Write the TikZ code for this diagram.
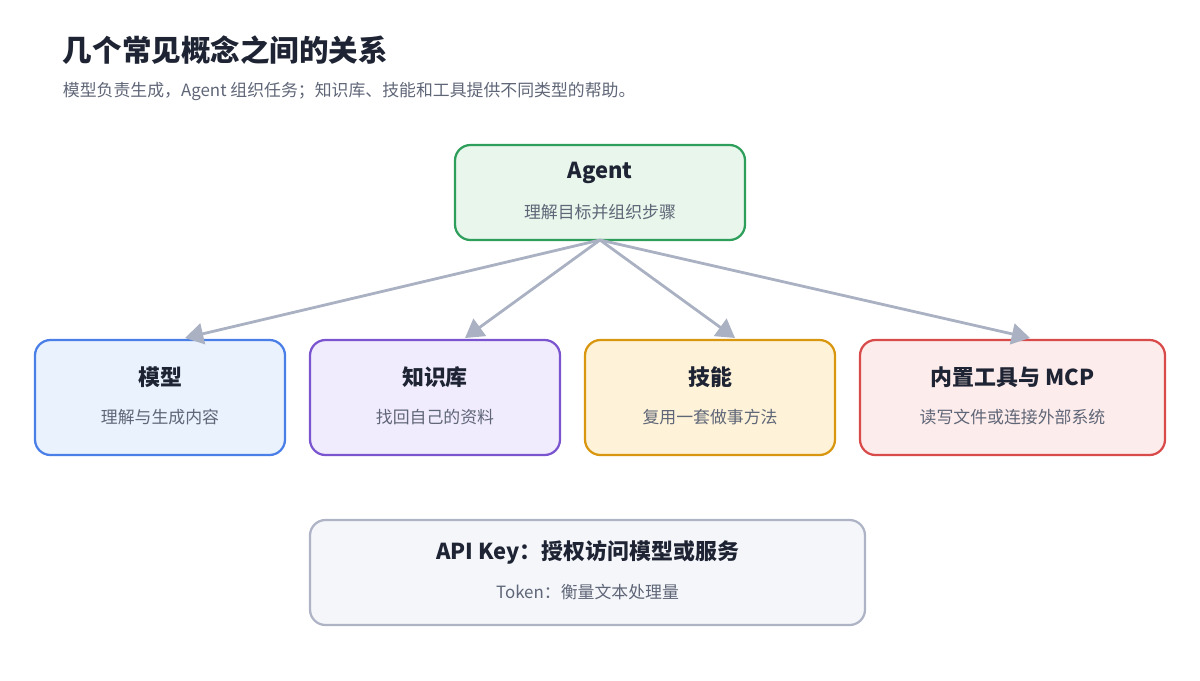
\documentclass[tikz,border=0pt]{standalone}
\usepackage{fontspec}
\setmainfont{Noto Sans CJK SC}
\usetikzlibrary{arrows.meta,calc}
\definecolor{ink}{HTML}{1E2433}
\definecolor{sub}{HTML}{5F6677}
\definecolor{edge}{HTML}{A9B1C2}
\definecolor{gF}{HTML}{E8F6EC}\definecolor{gD}{HTML}{2E9E5B}
\definecolor{bF}{HTML}{EAF2FE}\definecolor{bD}{HTML}{4A7FE8}
\definecolor{pF}{HTML}{F1ECFD}\definecolor{pD}{HTML}{7B55CF}
\definecolor{oF}{HTML}{FEF3D9}\definecolor{oD}{HTML}{D9960F}
\definecolor{rF}{HTML}{FDECEC}\definecolor{rD}{HTML}{D94B4B}
\definecolor{kF}{HTML}{F4F6FA}\definecolor{kD}{HTML}{AEB4C6}
\tikzset{>={Triangle[length=13pt,width=15pt]}}
\newcommand{\boxtxt}[3]{%
  \node[font=\fontsize{15.6}{18}\selectfont\bfseries,text=ink] at ($(#1)+(0,-20)$) {#2};
  \node[font=\fontsize{12}{14}\selectfont,text=sub] at ($(#1)+(0,20)$) {#3};}
\begin{document}
\begin{tikzpicture}[x=0.025cm,y=-0.025cm,
  card/.style={draw,line width=1.6pt,rounded corners=11pt,inner sep=0pt},
  link/.style={->,draw=edge,line width=2pt}]
\useasboundingbox (0,0) rectangle (1200,680);
\node[anchor=west,font=\fontsize{21}{24}\selectfont\bfseries,text=ink] (title) at (58,50) {几个常见概念之间的关系};
\node[anchor=west,font=\fontsize{12}{14}\selectfont,text=sub] (subtitle) at (58,91) {模型负责生成，Agent 组织任务；知识库、技能和工具提供不同类型的帮助。};
\node[card,fill=gF,draw=gD,minimum width=290*0.025cm,minimum height=95*0.025cm] (agent) at (600,192.5) {};
\node[card,fill=bF,draw=bD,minimum width=250*0.025cm,minimum height=115*0.025cm] (model) at (160,397.5) {};
\node[card,fill=pF,draw=pD,minimum width=250*0.025cm,minimum height=115*0.025cm] (kb) at (435,397.5) {};
\node[card,fill=oF,draw=oD,minimum width=250*0.025cm,minimum height=115*0.025cm] (skill) at (710,397.5) {};
\node[card,fill=rF,draw=rD,minimum width=305*0.025cm,minimum height=115*0.025cm] (tools) at (1012.5,397.5) {};
\node[card,fill=kF,draw=kD,minimum width=555*0.025cm,minimum height=105*0.025cm] (api) at (587.5,572.5) {};
\boxtxt{agent}{Agent}{理解目标并组织步骤}
\boxtxt{model}{模型}{理解与生成内容}
\boxtxt{kb}{知识库}{找回自己的资料}
\boxtxt{skill}{技能}{复用一套做事方法}
\boxtxt{tools}{内置工具与 MCP}{读写文件或连接外部系统}
\boxtxt{api}{API Key：授权访问模型或服务}{Token：衡量文本处理量}
\coordinate (hub) at (600,240);
\coordinate (m) at (185,338);
\coordinate (k) at (465,338);
\coordinate (s) at (735,338);
\coordinate (t) at (1030,338);
\foreach \e in {m,k,s,t}
  \draw[link] (hub) -- (\e);
\end{tikzpicture}
\end{document}
